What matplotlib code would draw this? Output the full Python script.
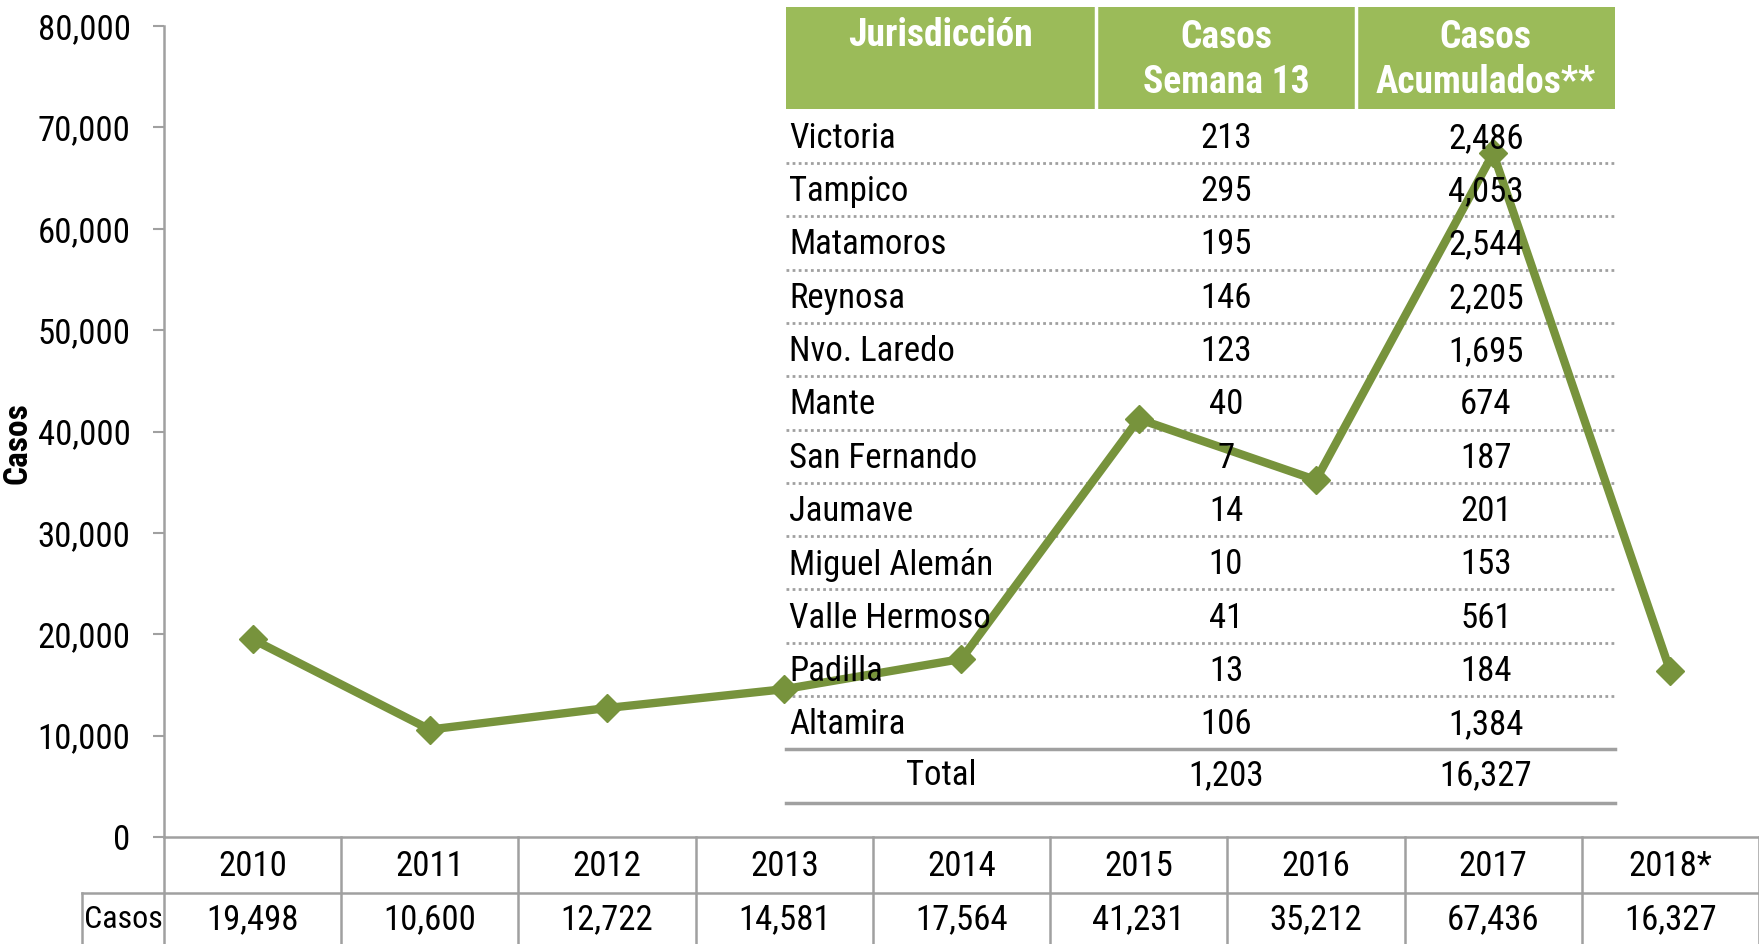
import matplotlib
matplotlib.use("Agg")
import matplotlib.pyplot as plt
from matplotlib import font_manager
from matplotlib.transforms import Affine2D, blended_transform_factory

# datos
anios = ['2010', '2011', '2012', '2013', '2014', '2015', '2016', '2017', '2018*']
casos = [19498, 10600, 12722, 14581, 17564, 41231, 35212, 67436, 16327]

jurisdicciones = ['Victoria', 'Tampico', 'Matamoros', 'Reynosa', 'Nvo. Laredo', 'Mante',
                  'San Fernando', 'Jaumave', 'Miguel Alemán', 'Valle Hermoso', 'Padilla',
                  'Altamira']
casos_semana13 = [213, 295, 195, 146, 123, 40, 7, 14, 10, 41, 13, 106]
casos_acumulados = [2486, 4053, 2544, 2205, 1695, 674, 187, 201, 153, 561, 184, 1384]
encabezados = ['Jurisdicción', 'Casos\nSemana 13', 'Casos\nAcumulados**']

# fuente angosta si existe
disponibles = {f.name for f in font_manager.fontManager.ttflist}
fuente = 'DejaVu Sans'
for cand in ['Liberation Sans Narrow', 'Roboto Condensed', 'DejaVu Sans Condensed',
             'Open Sans Condensed', 'Liberation Sans']:
    if cand in disponibles:
        fuente = cand
        break
plt.rcParams['font.family'] = [fuente, 'DejaVu Sans']

VERDE = '#77933C'
VERDE_CLARO = '#9BBB59'
GRIS = '#A0A0A0'
W, H = 1759, 944
FS = 25

fig = plt.figure(figsize=(W / 100, H / 100), dpi=100)
ax = fig.add_axes([164 / W, 1 - 837 / H, 1 - 164 / W, (837 - 26) / H])
px = Affine2D().scale(1 / W, -1 / H).translate(0, 1) + fig.transFigure
xpx = blended_transform_factory(ax.transData, px)

x = range(len(anios))
ax.plot(x, casos, color=VERDE, lw=6, marker='D', markersize=14, zorder=5, clip_on=False)

ax.set_xlim(-0.5, len(anios) - 0.5)
ax.set_ylim(0, 80000)
ax.set_yticks(range(0, 80001, 10000))
ax.set_yticklabels([f'{v:,}' for v in range(0, 80001, 10000)], fontsize=FS)
ax.tick_params(axis='y', length=8, width=1.5, color=GRIS, pad=16)
ax.set_xticks([])
for s in ['top', 'right']:
    ax.spines[s].set_visible(False)
for s in ['left', 'bottom']:
    ax.spines[s].set_color(GRIS)
    ax.spines[s].set_linewidth(1.8)

fig.text(18, 443, 'Casos', transform=px, rotation=90, fontsize=24, fontweight='bold',
         ha='center', va='center')

# tabla de datos inferior
for i in range(len(anios) + 1):
    ax.plot([i - 0.5, i - 0.5], [837, 944], transform=xpx, color=GRIS, lw=1.8, clip_on=False)
ax.plot([82, W], [893, 893], transform=px, color=GRIS, lw=1.8, clip_on=False)
ax.plot([82, 82], [893, 944], transform=px, color=GRIS, lw=1.8, clip_on=False)
ax.text(123, 920, 'Casos', transform=px, fontsize=23, ha='center', va='center')
for i, (a, c) in enumerate(zip(anios, casos)):
    ax.text(i, 866, a, transform=xpx, fontsize=FS, ha='center', va='center')
    ax.text(i, 920, f'{c:,}', transform=xpx, fontsize=FS, ha='center', va='center')

# tabla de jurisdicciones
cols = [786, 1096, 1356, 1615]
ax.fill_between([cols[0], cols[-1]], 7, 109, transform=px, color=VERDE_CLARO,
                lw=0, zorder=2, clip_on=False)
for cx in cols[1:-1]:
    ax.plot([cx, cx], [7, 109], transform=px, color='white', lw=2.5, zorder=3, clip_on=False)
ax.text((cols[0] + cols[1]) / 2, 35, encabezados[0], transform=px, color='white',
        fontsize=27, fontweight='bold', ha='center', va='center', zorder=6)
for j in (1, 2):
    ax.text((cols[j] + cols[j + 1]) / 2, 60, encabezados[j], transform=px, color='white',
            fontsize=27, fontweight='bold', ha='center', va='center', zorder=6,
            linespacing=1.3)

alto = 53.3
for k in range(len(jurisdicciones)):
    yl = 163 + alto * k
    if k < len(jurisdicciones) - 1:
        ax.plot([cols[0], cols[-1]], [yl, yl], transform=px, color=GRIS, lw=2,
                ls=(0, (1, 1.2)), zorder=3, clip_on=False)
    yc = yl - alto / 2 + 2
    ax.text(789, yc, jurisdicciones[k], transform=px, fontsize=FS, ha='left', va='center', zorder=6)
    ax.text(1226, yc, f'{casos_semana13[k]:,}', transform=px, fontsize=FS, ha='center',
            va='center', zorder=6)
    ax.text(1486, yc, f'{casos_acumulados[k]:,}', transform=px, fontsize=FS, ha='center',
            va='center', zorder=6)

y_tot1 = 163 + alto * 11
y_tot2 = y_tot1 + alto
for yl in (y_tot1, y_tot2):
    ax.plot([cols[0], cols[-1]], [yl, yl], transform=px, color=GRIS, lw=2.5, zorder=3, clip_on=False)
yc = (y_tot1 + y_tot2) / 2
ax.text((cols[0] + cols[1]) / 2, yc, 'Total', transform=px, fontsize=FS, ha='center', va='center', zorder=6)
ax.text(1226, yc, f'{sum(casos_semana13):,}', transform=px, fontsize=FS, ha='center', va='center', zorder=6)
ax.text(1486, yc, f'{sum(casos_acumulados):,}', transform=px, fontsize=FS, ha='center', va='center', zorder=6)

plt.savefig('out.png', dpi=100)
